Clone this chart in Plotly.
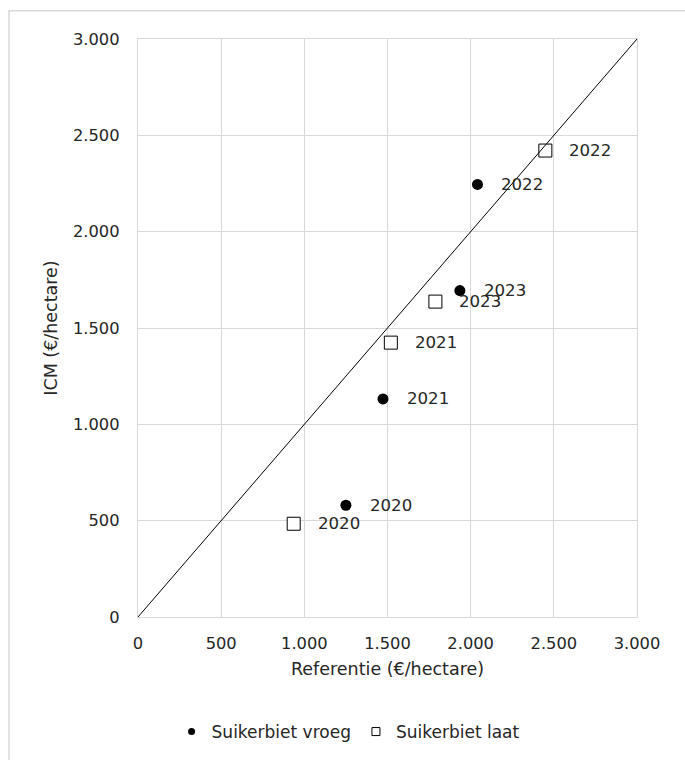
import plotly.graph_objects as go

# Saldo per hectare: ICM vs. referentie, per jaar
jaren_vroeg = ["2020", "2021", "2022", "2023"]
ref_vroeg = [1250, 1473, 2041, 1935]
icm_vroeg = [580, 1132, 2245, 1694]

jaren_laat = ["2020", "2021", "2022", "2023"]
ref_laat = [936, 1520, 2449, 1788]
icm_laat = [484, 1424, 2421, 1637]

# 1:1 lijn
diag_x = [0, 3000]
diag_y = [0, 3000]

as_max = 3000
tick_step = 500

FONT = "Verdana, DejaVu Sans, sans-serif"
TXT = "#262626"
GRID = "#d9d9d9"

fig = go.Figure()

fig.add_trace(go.Scatter(
    x=ref_vroeg, y=icm_vroeg, mode="markers", showlegend=False,
    marker=dict(symbol="circle", size=11, color="black", line=dict(width=0)),
    hoverinfo="skip",
))
fig.add_trace(go.Scatter(
    x=ref_laat, y=icm_laat, mode="markers", showlegend=False,
    marker=dict(symbol="square", size=13, color="white",
                line=dict(width=1, color="black")),
    hoverinfo="skip",
))
fig.add_trace(go.Scatter(
    x=diag_x, y=diag_y, mode="lines", showlegend=False,
    line=dict(color="black", width=1), hoverinfo="skip",
))

# legenda-items met kleine symbolen
fig.add_trace(go.Scatter(
    x=[None], y=[None], mode="markers", name="Suikerbiet vroeg",
    marker=dict(symbol="circle", size=7, color="black", line=dict(width=0)),
))
fig.add_trace(go.Scatter(
    x=[None], y=[None], mode="markers", name="Suikerbiet laat",
    marker=dict(symbol="square", size=8, color="white",
                line=dict(width=1, color="black")),
))

annotations = []
for xs, ys, labels in ((ref_vroeg, icm_vroeg, jaren_vroeg),
                       (ref_laat, icm_laat, jaren_laat)):
    for x, y, t in zip(xs, ys, labels):
        annotations.append(dict(
            x=x, y=y, xref="x", yref="y", text=t, showarrow=False,
            xanchor="left", yanchor="middle", xshift=22,
            font=dict(family=FONT, size=16.6, color=TXT),
        ))

axis_common = dict(
    range=[0, as_max], dtick=tick_step, tick0=0, tickformat=",d",
    showgrid=True, gridcolor=GRID, gridwidth=1.3,
    showline=True, linecolor=GRID, linewidth=1.3, mirror=True,
    zeroline=False, ticks="", fixedrange=True,
    tickfont=dict(family=FONT, size=16.3, color=TXT),
)

TITLE_FONT = dict(family=FONT, size=17.5, color=TXT)

fig.update_layout(
    width=685, height=760,
    margin=dict(l=138, r=48, t=39, b=143, autoexpand=False),
    paper_bgcolor="white", plot_bgcolor="white",
    separators=",.",
    font=dict(family=FONT, size=16, color=TXT),
    xaxis=dict(**axis_common, ticklabelstandoff=11,
               title=dict(text="Referentie (€/hectare)", standoff=11,
                          font=TITLE_FONT)),
    yaxis=dict(**axis_common, ticklabelstandoff=14,
               title=dict(text="ICM (€/hectare)", standoff=10,
                          font=TITLE_FONT)),
    legend=dict(orientation="h", x=0.421, xanchor="center",
                y=-0.199, yanchor="middle",
                font=dict(family=FONT, size=17, color=TXT),
                itemwidth=30, bgcolor="rgba(0,0,0,0)"),
    annotations=annotations,
    shapes=[dict(type="rect", xref="paper", yref="paper",
                 x0=-0.2585, x1=1.3, y0=-0.5, y1=1.049,
                 line=dict(color=GRID, width=1.5), layer="below")],
    showlegend=True,
)

fig.write_html("out.html")
